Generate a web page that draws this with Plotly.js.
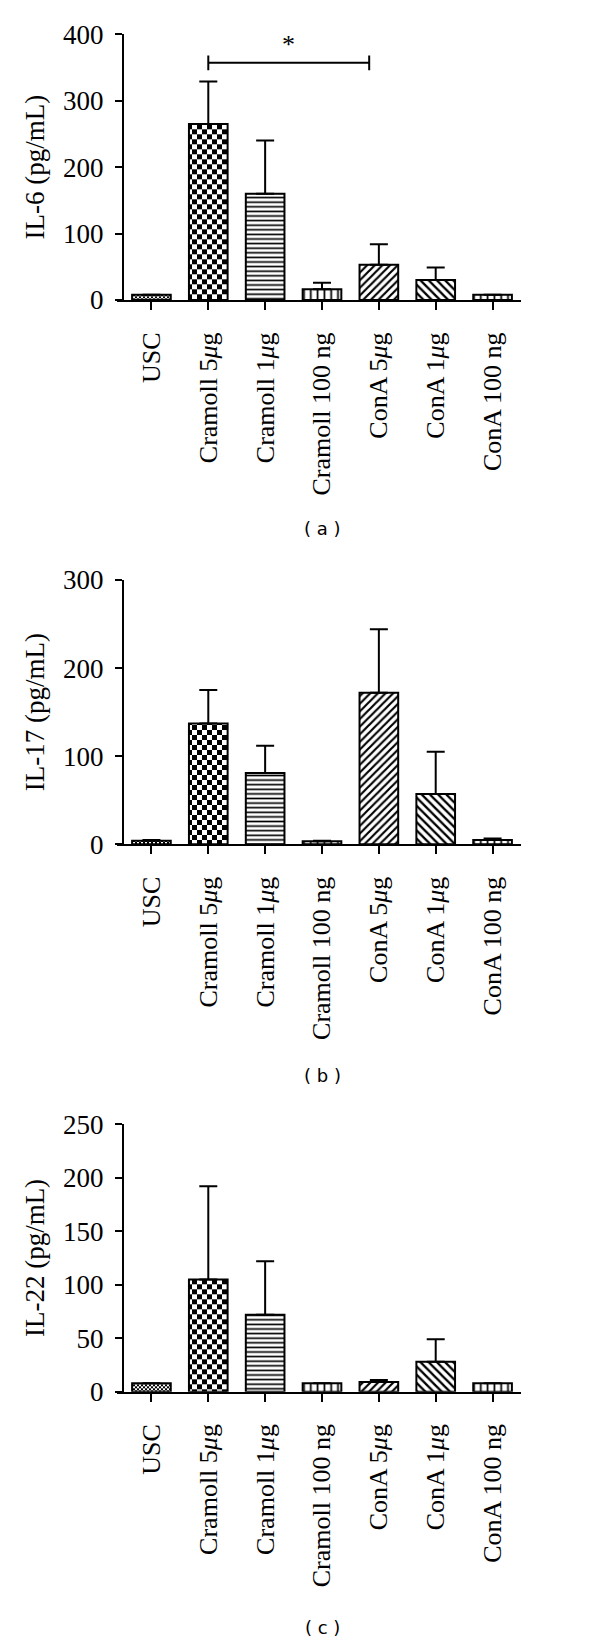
<!DOCTYPE html>
<html><head><meta charset="utf-8">
<script src="https://cdn.plot.ly/plotly-3.0.1.min.js"></script>
<style>html,body{margin:0;padding:0;background:#fff}#chart{width:600px;height:1641px}</style>
</head><body><div id="chart"></div>
<script>
// ---- data ----
const categories = ['USC', 'Cramoll 5μg', 'Cramoll 1μg', 'Cramoll 100 ng', 'ConA 5μg', 'ConA 1μg', 'ConA 100 ng'];
const il6 = [8, 265, 160, 16, 53, 30, 8];
const il6Err = [0, 64, 80, 10, 31, 19, 0];
const il17 = [4, 137, 81, 3.5, 172, 57, 5];
const il17Err = [1, 38, 31, 0.5, 72, 48, 1.5];
const il22 = [8, 105, 72, 8, 9, 28, 8];
const il22Err = [0, 87, 50, 0, 2, 21, 0];
const yTicksA = [0, 100, 200, 300, 400];
const yTicksB = [0, 100, 200, 300];
const yTicksC = [0, 50, 100, 150, 200, 250];
const yTitles = ['IL-6 (pg/mL)', 'IL-17 (pg/mL)', 'IL-22 (pg/mL)'];
const panelLabels = ['( a )', '( b )', '( c )'];
const sigPair = [1, 3.83];     // category positions of the significance bracket (IL-6)
const sigLevel = 357;          // IL-6 value of the bracket
const sigText = '*';

// ---- geometry ----
const W = 600, H = 1641;
const xLeft = 117, yAxisX = 123, xRight = 521;
const step = (xRight - yAxisX) / 7;
const xRange = [-0.5 - (yAxisX - xLeft) / step, 6.5];
const panels = [
  {top: 34.3, bottom: 300, vals: il6, err: il6Err, ticks: yTicksA, cap: 528},
  {top: 580, bottom: 844.3, vals: il17, err: il17Err, ticks: yTicksB, cap: 1075},
  {top: 1124.3, bottom: 1391.7, vals: il22, err: il22Err, ticks: yTicksC, cap: 1627}
];

const tickText = categories.map(c => c.replace('μ', '<i>μ</i>'));
const serif = 'Liberation Serif, Times New Roman, serif';

const patShapes = ['', '', '-', '|', '/', '\\', '|'];
const patSizes = [4, 4, 4.6, 6.8, 5.4, 5.8, 6.8];
const patSol = [0.3, 0.3, 0.36, 0.26, 0.4, 0.4, 0.26];

const data = [];
const layout = {
  width: W, height: H,
  margin: {l: 0, r: 0, t: 0, b: 0},
  paper_bgcolor: '#fff', plot_bgcolor: 'rgba(0,0,0,0)',
  showlegend: false,
  bargap: 0.32,
  shapes: [], annotations: []
};

panels.forEach((p, i) => {
  const n = i + 1;
  const sfx = n === 1 ? '' : String(n);
  const xa = 'x' + sfx, ya = 'y' + sfx;
  data.push({
    type: 'bar', x: categories, y: p.vals, xaxis: xa, yaxis: ya,
    marker: {
      color: '#fff',
      line: {color: '#000', width: 2},
      pattern: {shape: patShapes, size: patSizes, solidity: patSol, fgcolor: '#000', bgcolor: '#fff', fillmode: 'replace'}
    },
    error_y: {type: 'data', symmetric: false, array: p.err, arrayminus: p.err.map(() => 0), color: '#000', thickness: 2, width: 9},
    hoverinfo: 'none'
  });
  const max = p.ticks[p.ticks.length - 1];
  layout['xaxis' + sfx] = {
    domain: [xLeft / W, xRight / W], range: xRange, anchor: ya,
    type: 'category', tickmode: 'array', tickvals: categories, ticktext: tickText,
    tickangle: -90, ticks: 'outside', ticklen: 8, tickwidth: 2, tickcolor: '#000',
    showline: true, linecolor: '#000', linewidth: 2, showgrid: false, zeroline: false,
    ticklabelstandoff: 12,
    tickfont: {family: serif, size: 26, color: '#000'}, automargin: false, fixedrange: true
  };
  layout['yaxis' + sfx] = {
    domain: [1 - p.bottom / H, 1 - p.top / H], range: [0, max], anchor: 'free', position: yAxisX / W,
    tickmode: 'array', tickvals: p.ticks, ticks: 'outside', ticklen: 7, tickwidth: 2, tickcolor: '#000',
    showline: true, linecolor: '#000', linewidth: 2, showgrid: false, zeroline: false,
    ticklabelstandoff: 6,
    tickfont: {family: serif, size: 27, color: '#000'},
    title: {text: yTitles[i], font: {family: serif, size: 27, color: '#000'}, standoff: 10},
    automargin: false, fixedrange: true
  };
  layout.annotations.push({
    xref: 'paper', yref: 'paper', x: 322 / W, y: 1 - p.cap / H, showarrow: false,
    text: panelLabels[i], font: {family: 'DejaVu Sans, Verdana, sans-serif', size: 18, color: '#000'},
    xanchor: 'center', yanchor: 'middle'
  });
});

// significance bracket on IL-6 panel
const tickH = 11;
layout.shapes.push(
  {type: 'line', xref: 'x', yref: 'y', x0: sigPair[0], x1: sigPair[1], y0: sigLevel, y1: sigLevel, line: {color: '#000', width: 2}},
  {type: 'line', xref: 'x', yref: 'y', x0: sigPair[0], x1: sigPair[0], y0: sigLevel - tickH, y1: sigLevel + tickH, line: {color: '#000', width: 2}},
  {type: 'line', xref: 'x', yref: 'y', x0: sigPair[1], x1: sigPair[1], y0: sigLevel - tickH, y1: sigLevel + tickH, line: {color: '#000', width: 2}}
);
layout.annotations.push({
  xref: 'x', yref: 'y', x: (sigPair[0] + sigPair[1]) / 2, y: 384, yanchor: 'middle',
  showarrow: false, text: sigText, font: {family: serif, size: 26, color: '#000'}
});

Plotly.newPlot('chart', data, layout, {staticPlot: true, displayModeBar: false}).then(gd => {
  const NS = 'http://www.w3.org/2000/svg';
  const svg = gd.querySelector('.main-svg');
  let defs = svg.querySelector('defs');
  if (!defs) { defs = document.createElementNS(NS, 'defs'); svg.insertBefore(defs, svg.firstChild); }
  function checker(id, cell) {
    const pat = document.createElementNS(NS, 'pattern');
    pat.setAttribute('id', id);
    pat.setAttribute('patternUnits', 'userSpaceOnUse');
    pat.setAttribute('width', 2 * cell);
    pat.setAttribute('height', 2 * cell);
    const rects = [[0, 0, 2 * cell, 2 * cell, '#fff'], [0, 0, cell, cell, '#000'], [cell, cell, cell, cell, '#000']];
    rects.forEach(r => {
      const e = document.createElementNS(NS, 'rect');
      e.setAttribute('x', r[0]); e.setAttribute('y', r[1]);
      e.setAttribute('width', r[2]); e.setAttribute('height', r[3]);
      e.setAttribute('fill', r[4]);
      pat.appendChild(e);
    });
    defs.appendChild(pat);
  }
  checker('chkFine', 2);
  checker('chkBig', 5);
  gd.querySelectorAll('.barlayer .trace').forEach(tr => {
    const pts = tr.querySelectorAll('.point path');
    if (pts[0]) pts[0].style.fill = 'url(#chkFine)';
    if (pts[1]) pts[1].style.fill = 'url(#chkBig)';
  });
});
</script>
</body></html>
